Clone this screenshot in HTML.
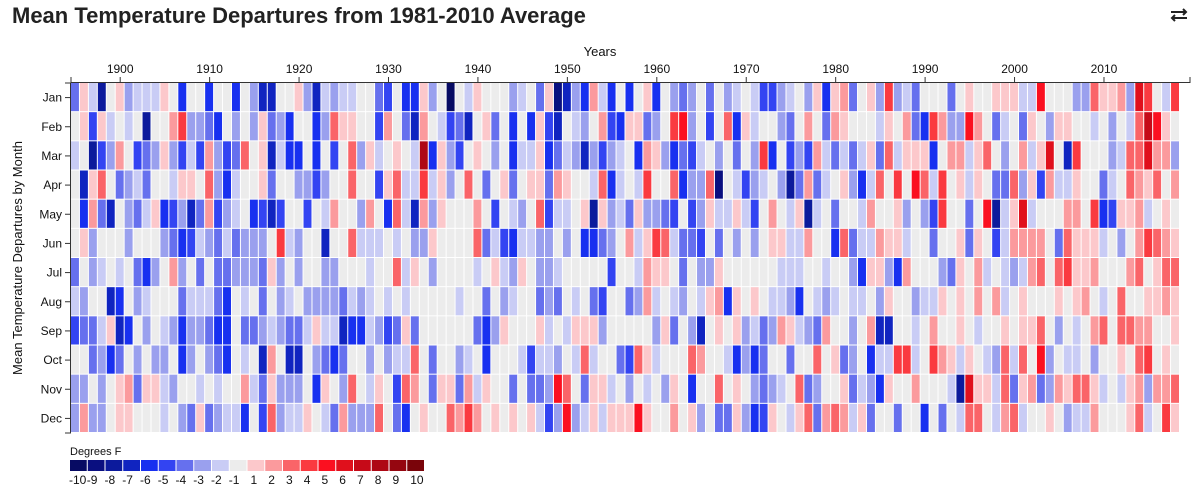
<!DOCTYPE html>
<html><head><meta charset="utf-8"><style>
body{margin:0;background:#fff;font-family:"Liberation Sans",sans-serif;}
#wrap{position:relative;width:1200px;height:487px;overflow:hidden;}
h1{position:absolute;left:12px;top:3px;margin:0;font-size:22px;font-weight:bold;color:#222;}
</style></head><body>
<div id="wrap">
<h1>Mean Temperature Departures from 1981-2010 Average</h1>
<svg style="position:absolute;left:1168px;top:4px" width="22" height="22" viewBox="0 0 22 22">
<path d="M3 8 H18 M15 5 L18 8 L15 11 M19 14 H4 M7 11 L4 14 L7 17" stroke="#222" stroke-width="2" fill="none"/></svg>
<svg id="chart" width="1200" height="487" style="position:absolute;left:0;top:0;pointer-events:none"></svg>
</div>
<script>
const months=["Jan","Feb","Mar","Apr","May","Jun","Jul","Aug","Sep","Oct","Nov","Dec"];
const startYear=1895;
const yearTicks=[1900,1910,1920,1930,1940,1950,1960,1970,1980,1990,2000,2010];
const legendLabels=[-10,-9,-8,-7,-6,-5,-4,-3,-2,-1,1,2,3,4,5,6,7,8,9,10];
const palette=["#070b63","#0a0f80","#0c1a9c","#1024c0","#1830f0","#3344f2","#6670ee","#9aa0ee","#c9ccf5","#ececec","#fcc8cb","#fb9a9d","#fa6468","#fa3a40","#fb1020","#e0101c","#c60a18","#ae0814","#950610","#7a040a"];
const jan=[-4,1,-2,-8,0,1,-3,-2,-2,-2,1,0,-6,0,0,-6,0, 0,-6,0,-3,-7,-7,0,0,1,-3,-7,-2,-3,-2,-2,0,0, -4,-5,0,-6,-6,1,-3,0,-10,0,-2,1,0,0,0,-3,-2, 0,-4,1,-9,-7,-3,-6,2,-2,-6,0,-6,0,1,-6,0,-3, -4,-3,0,-4,0,-3,-2,0,-2,-5,-5,-3,-2,0,-3,1,-6, 1,2,-4,0,1,-3,4,-3,-2,-4,0,0,0,-4,0,1,0, 0,1,1,1,-2,-2,5,0,0,0,-3,-3,3,1,1,2,-3, 6,4,0,-2,4];
const feb=[0,1,-5,1,-2,0,-2,0,-8,0,0,2,4,-3,-3,-4,-6, 0,-3,0,-3,1,-4,-3,-6,0,0,-6,-3,3,1,1,0,0, -5,2,0,-4,-7,2,0,-2,-5,-4,-7,0,1,-4,0,-6,0, -6,1,-5,-7,0,-2,-3,0,2,-5,-6,1,1,-4,-3,0,4, 5,-3,0,-5,0,3,-6,1,-2,0,0,-3,-4,0,2,0,-4, 2,1,0,0,0,-2,1,0,2,-4,-6,4,2,-3,-3,5,2, 0,-4,-2,0,-4,1,0,-3,1,1,0,0,-2,0,-3,0,-2, 3,7,5,1,0];
const mar=[-2,0,-8,-5,-3,2,0,-5,-4,-3,1,-3,-5,-2,-5,2,-3, -5,-4,3,0,1,-7,-2,-6,-6,0,-6,0,-5,0,3,-3,1, -2,0,1,0,-2,8,-6,1,-3,-5,0,1,0,-3,0,-6,-2, -2,1,-6,-4,-2,-3,-7,-3,-5,-3,-2,0,-6,2,1,-3,-6, -4,-5,-2,0,-3,0,-4,0,-3,4,-6,0,-5,-3,-5,2,-2, -4,-2,-4,-2,1,-4,3,-2,1,1,1,-6,0,2,2,-2,1, 3,0,-3,0,2,-2,1,6,0,-7,4,0,0,0,-3,-2,3, 3,6,2,2,-3];
const apr=[0,-7,1,3,0,-4,-3,-2,-4,0,0,-2,1,1,0,3,-3, -6,-2,0,0,1,-4,0,0,-3,-3,-5,-3,0,0,3,0,0, -5,1,3,-2,-2,4,-2,1,-3,0,3,0,-4,0,1,-4,0, 1,1,-4,2,1,0,0,-2,3,-6,-2,0,-2,4,0,0,3, -6,-3,-3,3,-9,0,-2,-5,-3,-2,0,-3,-8,-4,2,-4,-2, 0,1,-3,-6,-2,3,0,4,0,5,3,-2,4,0,1,-2,1, 0,-4,-4,3,-3,1,-5,2,-2,-2,1,0,0,-4,-2,0,3, 2,1,3,0,2];
const may=[0,-6,2,-4,-7,0,-3,-4,-2,1,-6,-5,-3,-7,-4,2,-5, -3,-2,0,-6,-5,-7,-5,0,0,-5,0,-2,2,0,0,-3,2, 0,-6,3,-2,-7,2,-3,1,0,0,0,2,0,-5,0,-2,-3, 0,3,-5,-2,-2,0,1,-8,1,-3,-2,-4,1,-3,-3,-4,-5, 0,-5,-3,1,-2,-2,1,-2,-5,0,2,0,-2,1,-8,-2,0, -4,0,0,-2,2,0,0,1,-3,0,-3,-5,4,0,0,-4,0, 5,-8,-2,1,6,-2,0,0,0,2,2,0,4,-6,-5,1,1, 2,-2,0,1,0];
const jun=[0,1,-3,0,0,0,-3,0,0,0,-3,-4,-6,-5,-2,-3,-4, -2,-4,-3,-3,-3,0,4,-2,-3,0,0,-7,0,0,3,-2,-2, -2,0,-2,0,-3,-3,1,0,0,0,0,3,-4,-2,-5,-6,-2, -2,-3,-3,0,-3,0,-6,-6,-4,-3,0,2,-2,1,4,3,-2, -4,-4,-5,0,-4,0,-3,0,-3,0,1,1,-2,-2,2,0,0, -6,3,-4,-2,-2,2,1,1,-2,0,0,-4,0,0,1,-4,1, 0,-5,-2,2,2,2,2,0,-4,3,1,1,1,-2,0,-3,0, 2,4,3,2,1];
const jul=[-4,0,-3,-2,0,-2,0,-4,-6,-3,0,2,-3,0,-4,0,-4, -4,-3,-3,-3,-4,1,-3,0,-3,0,0,-3,-3,0,0,0,-2, 0,0,3,-2,1,0,-3,0,0,0,0,-2,0,1,-2,-3,1, 0,-3,-3,-2,0,0,0,0,0,-5,0,0,-2,2,1,1,0, -4,0,-3,-3,1,0,0,0,0,0,0,-2,-2,-2,0,0,-2, 0,0,-3,-6,1,1,-3,-6,2,0,0,0,-3,-4,1,0,2, -2,0,-2,-3,-2,2,3,0,3,4,1,1,2,0,0,0,2, 3,0,1,3,3];
const aug=[-2,-3,0,0,-7,-6,0,-3,-2,0,0,0,-4,-2,-2,-2,-4, -6,0,-2,0,-4,0,-3,-2,0,-3,-3,-3,-3,-4,-2,-3,-2, 0,-2,0,-2,0,0,0,0,0,-2,0,0,-4,0,-3,-2,0, 0,-4,-3,-4,0,-2,0,-4,-5,0,0,-4,-3,2,-2,0,-2, -3,0,-2,1,2,-6,1,0,1,0,-2,-2,-3,-6,0,-2,-3, -2,0,-2,-2,0,-3,1,0,0,-3,-2,-2,1,0,1,0,2, 0,2,-2,0,1,0,0,0,1,0,1,2,0,-2,0,3,0, 0,1,1,2,1];
const sep=[-5,-4,-4,-2,1,-7,-6,0,-3,0,-2,-3,-6,-3,-3,-4,-6, -6,0,-4,-4,-3,-2,-3,-4,-4,-2,1,-2,-2,-7,-6,-6,-2, -3,-5,-4,1,-4,0,0,0,0,0,0,-4,-6,-3,1,0,0, 0,1,-2,0,-2,1,1,1,-3,0,0,0,0,0,-3,1,-4, 0,-3,-7,0,1,0,1,-3,-2,-4,-3,2,1,-2,-3,-4,2, 0,0,-3,0,2,-7,-7,0,0,-2,0,2,0,0,1,0,-2, 0,0,1,0,1,1,3,0,-3,0,-2,0,2,3,0,3,3, 2,2,0,0,1];
const oct=[0,0,-4,-3,-6,-4,0,-3,0,-3,-3,0,-6,-3,0,-3,-4, -6,0,-2,0,-7,2,0,-7,-7,0,-3,-4,-6,-4,0,0,-3, 0,-3,-2,-2,3,0,-4,0,0,-3,-2,0,-6,0,0,0,-2, -5,-2,-2,-3,0,-2,3,-2,0,0,-4,-5,3,1,-2,0,0, 0,3,2,0,0,-2,-6,-3,-6,-4,0,0,-4,0,0,3,0, 1,-4,-3,0,-6,-2,-2,4,4,-2,0,4,2,1,-2,1,0, -2,-3,3,-2,3,0,5,-3,0,-2,-2,0,-3,0,0,1,0, 3,4,0,1,0];
const nov=[-3,-3,0,-3,0,1,2,-4,1,1,-2,-3,0,0,-2,0,-2, 0,0,2,-2,-4,1,-3,-3,-3,0,-6,1,0,-3,3,0,-2, 1,0,-5,3,2,0,-4,1,1,-4,2,-2,1,0,0,-4,0, -4,-4,-3,5,3,0,-4,1,1,-2,0,-3,0,-2,0,-3,1, 0,-6,0,0,3,0,1,0,-3,-4,-3,-2,0,3,-4,-3,0, 0,1,-4,-2,-3,-6,1,0,0,2,0,0,0,-2,-8,6,1, 1,-2,3,-4,1,2,-4,-3,2,1,3,3,1,-2,0,-2,1, 2,-3,2,2,3];
const dec=[-3,2,-3,-3,0,1,1,0,0,0,-2,0,-3,-4,1,-4,-3, -2,-2,-6,0,-5,3,-3,-2,-2,1,0,-2,-4,2,-3,-3,-3, 3,0,-4,-6,0,1,0,0,3,2,4,2,0,1,0,1,0, 1,-2,-5,-3,5,-3,-2,1,-2,1,1,1,5,1,0,0,2, 0,1,-3,0,-4,-4,1,-3,-6,-5,1,0,-2,1,3,-4,2, 3,2,-2,1,-4,0,0,-4,0,0,-6,0,-4,0,-2,3,3, 0,-2,2,3,-2,0,0,1,0,-3,-2,-2,2,0,0,0,1, 3,-2,0,4,1];
const series=[jan,feb,mar,apr,may,jun,jul,aug,sep,oct,nov,dec];

const NS="http://www.w3.org/2000/svg";
const svg=document.getElementById('chart');
const X0=71,X1=1180,Y0=83,Y1=433;
const nYears=jan.length;
const cw=(X1-X0)/nYears, ch=(Y1-Y0)/12;
function xScale(year){return X0+(year-startYear)*cw;}
function yScale(m){return Y0+m*ch;}
function colorIdx(v){return v<1?Math.max(0,Math.min(9,Math.floor(v)+10)):Math.min(19,Math.floor(v)+9);}
function mk(tag,attrs){const e=document.createElementNS(NS,tag);for(const k in attrs)e.setAttribute(k,attrs[k]);svg.appendChild(e);return e;}

series.forEach((vals,m)=>{
  vals.forEach((v,i)=>{
    const r=mk('rect',{x:xScale(startYear+i),y:yScale(m),width:cw-1,height:ch-1,fill:palette[colorIdx(v)]});
    
    
  });
});
// x axis
const xa=mk('path',{d:`M${X0},77V${Y0-0.5}H1190V77`,stroke:'#333',fill:'none','stroke-width':1});


yearTicks.forEach(y=>{
  const cx=xScale(y)+cw/2;
  const t=mk('line',{x1:cx,x2:cx,y1:77,y2:Y0,stroke:'#333'});
  
  
  const l=mk('text',{x:cx,y:73,'text-anchor':'middle','font-size':12,fill:'#111'});
  l.textContent=y;
  
  
});
const xt=mk('text',{x:600,y:56,'text-anchor':'middle','font-size':13,fill:'#111'});
xt.textContent='Years';


// y axis
const ya=mk('path',{d:`M65,${Y0}H${X0-0.5}V${Y1}H65`,stroke:'#333',fill:'none'});


months.forEach((mo,m)=>{
  const cy=yScale(m)+ch/2;
  const t=mk('line',{x1:65,x2:X0,y1:cy,y2:cy,stroke:'#333'});
  
  
  const l=mk('text',{x:62,y:cy+4,'text-anchor':'end','font-size':12,fill:'#111'});
  l.textContent=mo;
  
  
});
const yt=mk('text',{x:0,y:0,'text-anchor':'middle','font-size':13,fill:'#111',transform:'translate(22,258) rotate(-90)'});
yt.textContent='Mean Temperature Departures by Month';


// legend
const lt=mk('text',{x:70,y:455,'font-size':11,fill:'#111'});
lt.textContent='Degrees F';


const sw=17.75;
legendLabels.forEach((lab,i)=>{
  const r=mk('rect',{x:70+i*sw,y:460,width:sw-1,height:11,fill:palette[i]});
  
  
  const l=mk('text',{x:70+i*sw+(lab<0?-1:3),y:484,'font-size':12,fill:'#111'});
  l.textContent=lab;
  
  
});
</script>
</body></html>
